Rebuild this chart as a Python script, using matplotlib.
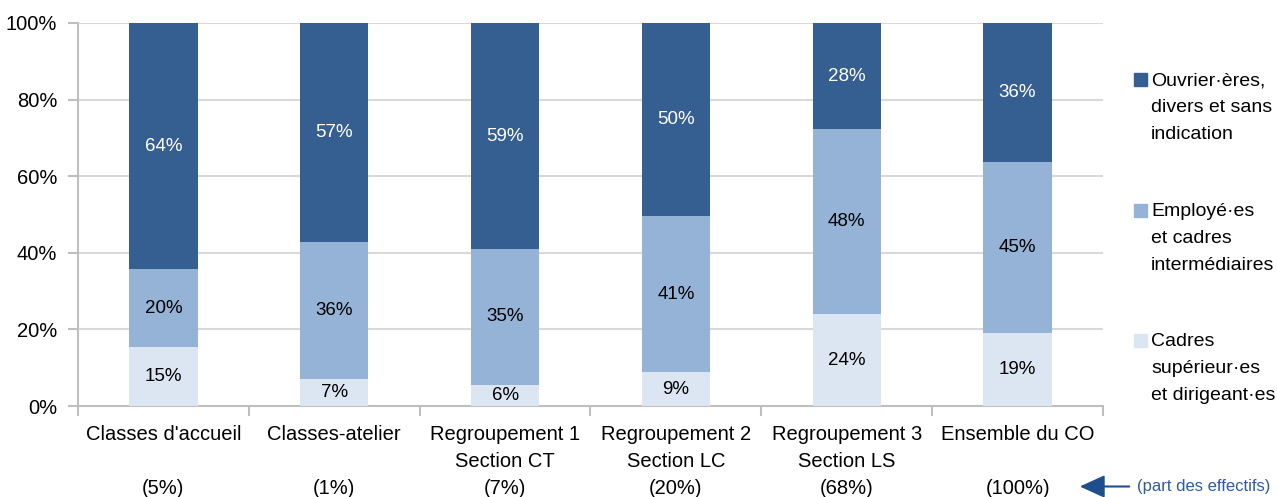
import matplotlib
matplotlib.use("Agg")
import matplotlib.pyplot as plt
from matplotlib.patches import Rectangle, FancyArrowPatch
from matplotlib.ticker import FixedLocator, PercentFormatter
import numpy as np

plt.rcParams['font.family'] = ['Liberation Sans', 'DejaVu Sans']

categories = ["Classes d'accueil", "Classes-atelier", "Regroupement 1\nSection CT",
              "Regroupement 2\nSection LC", "Regroupement 3\nSection LS", "Ensemble du CO"]
shares = ["(5%)", "(1%)", "(7%)", "(20%)", "(68%)", "(100%)"]

cadres_sup = [15.4, 7.1, 5.6, 8.8, 23.9, 19.0]
employes = [20.3, 35.8, 35.3, 40.8, 48.3, 44.6]
ouvriers = [64.3, 57.1, 59.1, 50.4, 27.8, 36.4]

series_labels = ["Ouvrier·ères,\ndivers et sans\nindication",
                 "Employé·es\net cadres\nintermédiaires",
                 "Cadres\nsupérieur·es\net dirigeant·es"]
colors = {"dark": "#365F91", "mid": "#95B3D7", "light": "#DCE6F2"}

W, H = 1277, 497
fig = plt.figure(figsize=(W / 100, H / 100), dpi=100)
ax = fig.add_axes([78 / W, 1 - 406 / H, (1103 - 78) / W, (406 - 23) / H])

x = np.arange(len(categories))
width = 0.4
stack = [(cadres_sup, colors["light"], "black"),
         (employes, colors["mid"], "black"),
         (ouvriers, colors["dark"], "white")]
bottom = np.zeros(len(categories))
for vals, col, tcol in stack:
    vals = np.array(vals)
    bars = ax.bar(x, vals, width, bottom=bottom, color=col, zorder=3)
    ax.bar_label(bars, labels=[f"{v:.0f}%" for v in vals], label_type="center",
                 color=tcol, fontsize=13.5, zorder=4)
    bottom += vals

ax.set_xlim(-0.5, len(categories) - 0.5)
ax.set_ylim(0, 100)
ax.yaxis.set_major_locator(FixedLocator([0, 20, 40, 60, 80, 100]))
ax.yaxis.set_major_formatter(PercentFormatter(decimals=0))
ax.grid(axis="y", color="#D9D9D9", linewidth=1.5, zorder=0)
ax.set_axisbelow(True)

for s in ["top", "right"]:
    ax.spines[s].set_visible(False)
for s in ["left", "bottom"]:
    ax.spines[s].set_color("#BFBFBF")
    ax.spines[s].set_linewidth(1.5)

# category boundaries as ticks, labels at centers
ax.set_xticks(np.arange(len(categories) + 1) - 0.5)
ax.set_xticklabels([])
ax.set_xticks(x, minor=True)
ax.set_xticklabels([f"{c}\n\n{s}" if "\n" not in c else f"{c}\n{s}"
                    for c, s in zip(categories, shares)], minor=True, fontsize=14.5,
                   linespacing=1.52)
ax.tick_params(axis="x", which="major", length=7, color="#BFBFBF", width=1.5)
ax.tick_params(axis="x", which="minor", length=0, pad=14)
ax.tick_params(axis="y", length=7, color="#BFBFBF", width=1.5, labelsize=14.5, pad=8)

# legend drawn on the figure
legend_y = [79, 210, 340]
legend_cols = [colors["dark"], colors["mid"], colors["light"]]
for yy, lab, col in zip(legend_y, series_labels, legend_cols):
    fig.patches.append(Rectangle((1134 / W, 1 - (yy + 6.5) / H), 12.5 / W, 13 / H,
                                 transform=fig.transFigure, color=col))
    fig.text(1151 / W, 1 - (yy - 7) / H, lab, fontsize=14, va="top", ha="left",
             linespacing=1.76)

fig.text(1137 / W, 1 - 486 / H, "(part des effectifs)", fontsize=12, color="#2E5C9E",
         va="center", ha="left")
fig.patches.append(FancyArrowPatch((1132 / W, 1 - 486.5 / H), (1077 / W, 1 - 486.5 / H),
                                   transform=fig.transFigure,
                                   arrowstyle="-|>,head_length=1.1,head_width=0.5",
                                   mutation_scale=14, color="#1F4E8C", linewidth=1.5))

fig.savefig("out.png", dpi=100)
